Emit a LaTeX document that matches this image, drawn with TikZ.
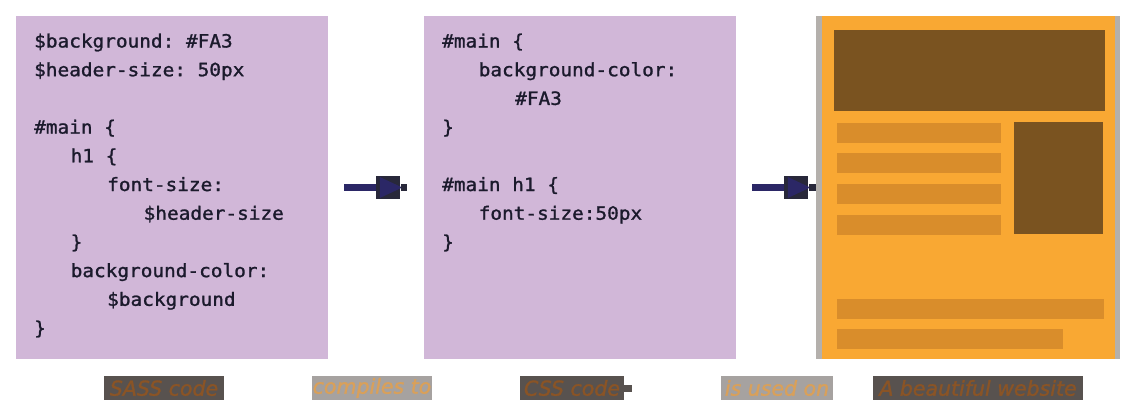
\documentclass[tikz,border=0pt]{standalone}
\usepackage{fontspec}
\setmonofont[FakeStretch=1.06,FakeBold=1.3]{DejaVu Sans Mono}
\setsansfont{DejaVu Sans}
\newfontfamily\lblfont[FakeBold=1.5]{DejaVu Sans}
\definecolor{codebg}{HTML}{D1B7D8}
\definecolor{codefg}{HTML}{1B1A2C}
\definecolor{navy}{HTML}{2B2766}
\definecolor{sqdark}{HTML}{28283A}
\definecolor{webgray}{HTML}{B4B0AC}
\definecolor{weborange}{HTML}{F9A833}
\definecolor{webbrown}{HTML}{7A5320}
\definecolor{webbar}{HTML}{D98D2B}
\definecolor{lbldarkbg}{HTML}{58524F}
\definecolor{lbldarkfg}{HTML}{8A5426}
\definecolor{lbllightbg}{HTML}{A6A2A0}
\definecolor{lbllightfg}{HTML}{D9A05A}
\tikzset{
  codebox/.style={fill=codebg, draw=none, minimum width=312pt, minimum height=343pt, inner sep=0pt},
  codeline/.style={anchor=base west, inner sep=0pt, text=codefg, font=\fontsize{18.3}{22}\selectfont\ttfamily},
  arrline/.style={draw=navy, line width=7pt},
  stubline/.style={draw=sqdark, line width=7pt},
  headsq/.style={fill=sqdark, draw=none, minimum width=24pt, minimum height=23pt, inner sep=0pt},
  lbl/.style={draw=none, minimum height=24pt, inner sep=0pt, font=\fontsize{20.5}{22}\selectfont\lblfont\itshape},
  lbldark/.style={lbl, fill=lbldarkbg, text=lbldarkfg},
  lbllight/.style={lbl, fill=lbllightbg, text=lbllightfg},
}
\begin{document}
\begin{tikzpicture}[x=1pt,y=-1pt]
\useasboundingbox (0,0) rectangle (1127,410);
% code boxes
\node[codebox] (sass) at (172,187.5) {};
\node[codebox] (css) at (580,187.5) {};
\foreach \lv/\ln/\tx in {0/1/{\$background: \#FA3},0/2/{\$header-size: 50px},0/4/{\#main \{},1/5/{h1 \{},2/6/{font-size:},3/7/{\$header-size},1/8/{\}},1/9/{background-color:},2/10/{\$background},0/11/{\}}}
  \node[codeline] (sl\ln) at (34+36.5*\lv, 47.5+28.7*\ln-28.7) {\tx};
\foreach \lv/\ln/\tx in {0/1/{\#main \{},1/2/{background-color:},2/3/{\#FA3},0/4/{\}},0/6/{\#main h1 \{},1/7/{font-size:50px},0/8/{\}}}
  \node[codeline] (cl\ln) at (442+36.5*\lv, 47.5+28.7*\ln-28.7) {\tx};
% website
\node[fill=webgray, draw=none, minimum width=304pt, minimum height=343pt, inner sep=0pt] (web) at (968,187.5) {};
\node[fill=weborange, draw=none, minimum width=293pt, minimum height=343pt, inner sep=0pt] (webin) at (968.5,187.5) {};
\fill[webbrown] (834,30) rectangle (1105,110.5);
\fill[webbrown] (1014,122) rectangle (1103,234);
\fill[webbar] (837,123) rectangle (1001,143);
\fill[webbar] (837,153) rectangle (1001,173);
\fill[webbar] (837,184) rectangle (1001,204);
\fill[webbar] (837,215) rectangle (1001,235);
\fill[webbar] (837,299) rectangle (1104,319);
\fill[webbar] (837,329) rectangle (1063,349);
% arrows
\node[headsq] (sq1) at (388,187.5) {};
\node[headsq] (sq2) at (796,187.5) {};
\draw[arrline] ([xshift=16pt]sass.east) -- (sq1.west);
\fill[navy] ([xshift=4pt,yshift=10.5pt]sq1.west) -- ([xshift=2pt]sq1.east) -- ([xshift=4pt,yshift=-10.5pt]sq1.west) -- cycle;
\draw[stubline] ([xshift=1pt]sq1.east) -- ([xshift=-17pt]css.west);
\draw[arrline] ([xshift=16pt]css.east) -- (sq2.west);
\fill[navy] ([xshift=4pt,yshift=10.5pt]sq2.west) -- ([xshift=2pt]sq2.east) -- ([xshift=4pt,yshift=-10.5pt]sq2.west) -- cycle;
\draw[stubline] ([xshift=1pt]sq2.east) -- (web.west);
% labels
\node[lbldark, minimum width=120pt] (lsass) at (164,388) {SASS code};
\node[lbllight, minimum width=120pt] (lcomp) at (372,388) {compiles to};
\node[lbldark, minimum width=104pt] (lcss) at (572,388) {CSS code};
\fill[lbldarkbg] (lcss.east |- 0,385) rectangle ([xshift=8pt]lcss.east |- 0,392);
\node[lbllight, minimum width=112pt] (luse) at (777,388) {is used on};
\node[lbldark, minimum width=210pt] (lweb) at (978,388) {A beautiful website};
\end{tikzpicture}
\end{document}
